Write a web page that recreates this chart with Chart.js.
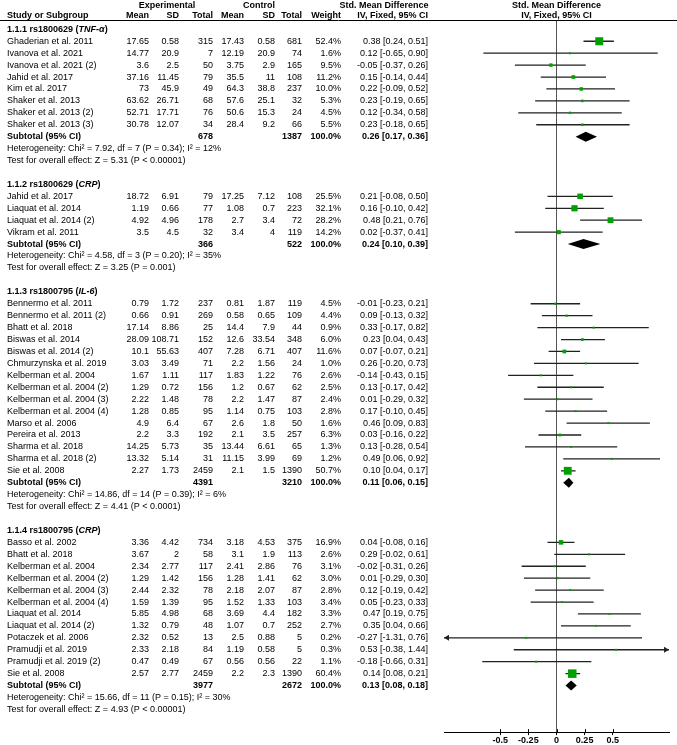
<!DOCTYPE html>
<html lang="en">
<head>
<meta charset="UTF-8">
<title>Forest plot: Std. Mean Difference</title>
<script src="https://cdn.jsdelivr.net/npm/chart.js"></script>
<style>
  html, body { margin: 0; padding: 0; background: #fff; }
  .chart-container { position: relative; width: 677px; height: 745px; }
</style>
</head>
<body>
<div class="chart-container"><canvas id="forestChart"></canvas></div>
<script>
// subgroups
const groupSnps = ['1.1.1 rs1800629', '1.1.2 rs1800629', '1.1.3 rs1800795', '1.1.4 rs1800795'];
const groupGenes = ['TNF-α', 'CRP', 'IL-6', 'CRP'];
const groupSizes = [8, 4, 15, 12];

// studies (in plot order)
const studyNames = [
  'Ghaderian et al. 2011', 'Ivanova et al. 2021', 'Ivanova et al. 2021 (2)', 'Jahid et al. 2017',
  'Kim et al. 2017', 'Shaker et al. 2013', 'Shaker et al. 2013 (2)', 'Shaker et al. 2013 (3)',
  'Jahid et al. 2017', 'Liaquat et al. 2014', 'Liaquat et al. 2014 (2)', 'Vikram et al. 2011',
  'Bennermo et al. 2011', 'Bennermo et al. 2011 (2)', 'Bhatt et al. 2018', 'Biswas et al. 2014',
  'Biswas et al. 2014 (2)', 'Chmurzynska et al. 2019', 'Kelberman et al. 2004', 'Kelberman et al. 2004 (2)',
  'Kelberman et al. 2004 (3)', 'Kelberman et al. 2004 (4)', 'Marso et al. 2006', 'Pereira et al. 2013',
  'Sharma et al. 2018', 'Sharma et al. 2018 (2)', 'Sie et al. 2008',
  'Basso et al. 2002', 'Bhatt et al. 2018', 'Kelberman et al. 2004', 'Kelberman et al. 2004 (2)',
  'Kelberman et al. 2004 (3)', 'Kelberman et al. 2004 (4)', 'Liaquat et al. 2014', 'Liaquat et al. 2014 (2)',
  'Potaczek et al. 2006', 'Pramudji et al. 2019', 'Pramudji et al. 2019 (2)', 'Sie et al. 2008'
];
const expMean = [17.65, 14.77, 3.6, 37.16, 73, 63.62, 52.71, 30.78,
  18.72, 1.19, 4.92, 3.5,
  0.79, 0.66, 17.14, 28.09, 10.1, 3.03, 1.67, 1.29, 2.22, 1.28, 4.9, 2.2, 14.25, 13.32, 2.27,
  3.36, 3.67, 2.34, 1.29, 2.44, 1.59, 5.85, 1.32, 2.32, 2.33, 0.47, 2.57];
const expSD = [0.58, 20.9, 2.5, 11.45, 45.9, 26.71, 17.71, 12.07,
  6.91, 0.66, 4.96, 4.5,
  1.72, 0.91, 8.86, 108.71, 55.63, 3.49, 1.11, 0.72, 1.48, 0.85, 6.4, 3.3, 5.73, 5.14, 1.73,
  4.42, 2, 2.77, 1.42, 2.32, 1.39, 4.98, 0.79, 0.52, 2.18, 0.49, 2.77];
const expTotal = [315, 7, 50, 79, 49, 68, 76, 34,
  79, 77, 178, 32,
  237, 269, 25, 152, 407, 71, 117, 156, 78, 95, 67, 192, 35, 31, 2459,
  734, 58, 117, 156, 78, 95, 68, 48, 13, 84, 67, 2459];
const ctlMean = [17.43, 12.19, 3.75, 35.5, 64.3, 57.6, 50.6, 28.4,
  17.25, 1.08, 2.7, 3.4,
  0.81, 0.58, 14.4, 12.6, 7.28, 2.2, 1.83, 1.2, 2.2, 1.14, 2.6, 2.1, 13.44, 11.15, 2.1,
  3.18, 3.1, 2.41, 1.28, 2.18, 1.52, 3.69, 1.07, 2.5, 1.19, 0.56, 2.2];
const ctlSD = [0.58, 20.9, 2.9, 11, 38.8, 25.1, 15.3, 9.2,
  7.12, 0.7, 3.4, 4,
  1.87, 0.65, 7.9, 33.54, 6.71, 1.56, 1.22, 0.67, 1.47, 0.75, 1.8, 3.5, 6.61, 3.99, 1.5,
  4.53, 1.9, 2.86, 1.41, 2.07, 1.33, 4.4, 0.7, 0.88, 0.58, 0.56, 2.3];
const ctlTotal = [681, 74, 165, 108, 237, 32, 24, 66,
  108, 223, 72, 119,
  119, 109, 44, 348, 407, 24, 76, 62, 87, 103, 50, 257, 65, 69, 1390,
  375, 113, 76, 62, 87, 103, 182, 252, 5, 5, 22, 1390];
const weights = [52.4, 1.6, 9.5, 11.2, 10.0, 5.3, 4.5, 5.5,
  25.5, 32.1, 28.2, 14.2,
  4.5, 4.4, 0.9, 6.0, 11.6, 1.0, 2.6, 2.5, 2.4, 2.8, 1.6, 6.3, 1.3, 1.2, 50.7,
  16.9, 2.6, 3.1, 3.0, 2.8, 3.4, 3.3, 2.7, 0.2, 0.3, 1.1, 60.4];
const smd = [0.38, 0.12, -0.05, 0.15, 0.22, 0.23, 0.12, 0.23,
  0.21, 0.16, 0.48, 0.02,
  -0.01, 0.09, 0.33, 0.23, 0.07, 0.26, -0.14, 0.13, 0.01, 0.17, 0.46, 0.03, 0.13, 0.49, 0.10,
  0.04, 0.29, -0.02, 0.01, 0.12, 0.05, 0.47, 0.35, -0.27, 0.53, -0.18, 0.14];
const ciLow = [0.24, -0.65, -0.37, -0.14, -0.09, -0.19, -0.34, -0.18,
  -0.08, -0.10, 0.21, -0.37,
  -0.23, -0.13, -0.17, 0.04, -0.07, -0.20, -0.43, -0.17, -0.29, -0.10, 0.09, -0.16, -0.28, 0.06, 0.04,
  -0.08, -0.02, -0.31, -0.29, -0.19, -0.23, 0.19, 0.04, -1.31, -0.38, -0.66, 0.08];
const ciHigh = [0.51, 0.90, 0.26, 0.44, 0.52, 0.65, 0.58, 0.65,
  0.50, 0.42, 0.76, 0.41,
  0.21, 0.32, 0.82, 0.43, 0.21, 0.73, 0.15, 0.42, 0.32, 0.45, 0.83, 0.22, 0.54, 0.92, 0.17,
  0.16, 0.61, 0.26, 0.30, 0.42, 0.33, 0.75, 0.66, 0.76, 1.44, 0.31, 0.21];

// subtotals
const subExpTotal = [678, 366, 4391, 3977];
const subCtlTotal = [1387, 522, 3210, 2672];
const subSmd = [0.26, 0.24, 0.11, 0.13];
const subLow = [0.17, 0.10, 0.06, 0.08];
const subHigh = [0.36, 0.39, 0.15, 0.18];
const hetChi = ['7.92', '4.58', '14.86', '15.66'];
const hetDf = [7, 3, 14, 11];
const hetP = ['0.34', '0.20', '0.39', '0.15'];
const hetI2 = [12, 35, 6, 30];
const zValues = ['5.31', '3.25', '4.41', '4.93'];
const zP = ['< 0.00001', '= 0.001', '< 0.0001', '< 0.00001'];

// axis
const tickValues = [-0.5, -0.25, 0, 0.25, 0.5];
const tickLabels = ['-0.5', '-0.25', '0', '0.25', '0.5'];

// work out which text row everything sits on
const headRow = [], studyRow = [], subRow = [], hetRow = [], testRow = [];
let r = 1;
groupSizes.forEach(n => {
  headRow.push(r++);
  for (let i = 0; i < n; i++) studyRow.push(r++);
  subRow.push(r++);
  hetRow.push(r++);
  testRow.push(r++);
  r++;
});

const FONT = '"Liberation Sans", Arial, sans-serif';
const col = { name: 7, eMean: 149, eSD: 179, eN: 213, cMean: 244, cSD: 275, cN: 302, w: 341, ci: 428 };

function ciText(e, lo, hi) {
  return e.toFixed(2) + ' [' + lo.toFixed(2) + ', ' + hi.toFixed(2) + ']';
}

function put(ctx, s, x, y, align, bold, italic) {
  ctx.font = (italic ? 'italic ' : '') + (bold ? 'bold ' : '') + '9px ' + FONT;
  ctx.textAlign = align;
  ctx.fillText(s, x, y);
  return ctx.measureText(s).width;
}

const forestPlugin = {
  id: 'forest',
  afterDatasetsDraw(chart) {
    const ctx = chart.ctx, xs = chart.scales.x, ys = chart.scales.y, area = chart.chartArea;
    ctx.save();
    // subtotal diamonds
    ctx.fillStyle = '#000';
    subSmd.forEach((e, g) => {
      const y = ys.getPixelForValue(subRow[g]);
      ctx.beginPath();
      ctx.moveTo(xs.getPixelForValue(subLow[g]), y);
      ctx.lineTo(xs.getPixelForValue(e), y - 5);
      ctx.lineTo(xs.getPixelForValue(subHigh[g]), y);
      ctx.lineTo(xs.getPixelForValue(e), y + 5);
      ctx.closePath();
      ctx.fill();
    });
    // arrows for intervals running past the axis
    ctx.fillStyle = '#222';
    studyRow.forEach((row, i) => {
      const y = ys.getPixelForValue(row);
      if (ciLow[i] < xs.min) {
        ctx.beginPath();
        ctx.moveTo(area.left, y); ctx.lineTo(area.left + 5, y - 3); ctx.lineTo(area.left + 5, y + 3);
        ctx.fill();
      }
      if (ciHigh[i] > xs.max) {
        ctx.beginPath();
        ctx.moveTo(area.right, y); ctx.lineTo(area.right - 5, y - 3); ctx.lineTo(area.right - 5, y + 3);
        ctx.fill();
      }
    });
    // tick marks also poke a little above the axis line
    ctx.strokeStyle = '#000';
    ctx.lineWidth = 1;
    tickValues.forEach(v => {
      const x = Math.round(xs.getPixelForValue(v)) + 0.5;
      ctx.beginPath();
      ctx.moveTo(x, area.bottom - 3); ctx.lineTo(x, area.bottom);
      ctx.stroke();
    });
    ctx.restore();
  },
  afterDraw(chart) {
    const ctx = chart.ctx, xs = chart.scales.x, ys = chart.scales.y, area = chart.chartArea;
    ctx.save();
    ctx.fillStyle = '#000';
    ctx.textBaseline = 'middle';

    // header
    const h1 = ys.getPixelForValue(-0.98), h2 = ys.getPixelForValue(-0.14);
    put(ctx, 'Experimental', 167, h1, 'center', true);
    put(ctx, 'Control', 259, h1, 'center', true);
    put(ctx, 'Std. Mean Difference', 384, h1, 'center', true);
    put(ctx, 'Std. Mean Difference', xs.getPixelForValue(0), h1, 'center', true);
    put(ctx, 'Study or Subgroup', col.name, h2, 'left', true);
    put(ctx, 'Mean', col.eMean, h2, 'right', true);
    put(ctx, 'SD', col.eSD, h2, 'right', true);
    put(ctx, 'Total', col.eN, h2, 'right', true);
    put(ctx, 'Mean', col.cMean, h2, 'right', true);
    put(ctx, 'SD', col.cSD, h2, 'right', true);
    put(ctx, 'Total', col.cN, h2, 'right', true);
    put(ctx, 'Weight', col.w, h2, 'right', true);
    put(ctx, 'IV, Fixed, 95% CI', col.ci, h2, 'right', true);
    put(ctx, 'IV, Fixed, 95% CI', xs.getPixelForValue(0), h2, 'center', true);

    ctx.strokeStyle = '#000';
    ctx.lineWidth = 1;
    ctx.beginPath();
    ctx.moveTo(0, area.top - 0.5); ctx.lineTo(chart.width, area.top - 0.5);
    ctx.stroke();

    groupSizes.forEach((n, g) => {
      let y = ys.getPixelForValue(headRow[g]);
      let x = col.name;
      x += put(ctx, groupSnps[g] + ' (', x, y, 'left', true);
      x += put(ctx, groupGenes[g], x, y, 'left', true, true);
      put(ctx, ')', x, y, 'left', true);

      y = ys.getPixelForValue(subRow[g]);
      put(ctx, 'Subtotal (95% CI)', col.name, y, 'left', true);
      put(ctx, String(subExpTotal[g]), col.eN, y, 'right', true);
      put(ctx, String(subCtlTotal[g]), col.cN, y, 'right', true);
      put(ctx, '100.0%', col.w, y, 'right', true);
      put(ctx, ciText(subSmd[g], subLow[g], subHigh[g]), col.ci, y, 'right', true);

      put(ctx, 'Heterogeneity: Chi² = ' + hetChi[g] + ', df = ' + hetDf[g] + ' (P = ' + hetP[g] + '); I² = ' + hetI2[g] + '%',
        col.name, ys.getPixelForValue(hetRow[g]), 'left');
      put(ctx, 'Test for overall effect: Z = ' + zValues[g] + ' (P ' + zP[g] + ')',
        col.name, ys.getPixelForValue(testRow[g]), 'left');
    });

    studyRow.forEach((row, i) => {
      const y = ys.getPixelForValue(row);
      put(ctx, studyNames[i], col.name, y, 'left');
      put(ctx, String(expMean[i]), col.eMean, y, 'right');
      put(ctx, String(expSD[i]), col.eSD, y, 'right');
      put(ctx, String(expTotal[i]), col.eN, y, 'right');
      put(ctx, String(ctlMean[i]), col.cMean, y, 'right');
      put(ctx, String(ctlSD[i]), col.cSD, y, 'right');
      put(ctx, String(ctlTotal[i]), col.cN, y, 'right');
      put(ctx, weights[i].toFixed(1) + '%', col.w, y, 'right');
      put(ctx, ciText(smd[i], ciLow[i], ciHigh[i]), col.ci, y, 'right');
    });
    ctx.restore();
  }
};

// CI segments, broken between studies
const ciSegments = [];
studyRow.forEach((row, i) => {
  ciSegments.push({ x: ciLow[i], y: row }, { x: ciHigh[i], y: row }, { x: null, y: null });
});

new Chart(document.getElementById('forestChart'), {
  type: 'scatter',
  data: {
    datasets: [
      {
        label: 'Std. Mean Difference',
        data: studyRow.map((row, i) => ({ x: smd[i], y: row })),
        order: 0,
        pointStyle: 'rect',
        backgroundColor: '#00a000',
        borderWidth: 0,
        pointRadius: ctx => Math.max(2, 1.1 * Math.sqrt(weights[ctx.dataIndex])) / Math.SQRT2
      },
      {
        label: '95% CI',
        type: 'line',
        data: ciSegments,
        order: 1,
        showLine: true,
        spanGaps: false,
        borderColor: '#222',
        borderWidth: 1.3,
        pointRadius: 0
      }
    ]
  },
  options: {
    responsive: true,
    maintainAspectRatio: false,
    animation: false,
    layout: { padding: { left: 444, right: 8, top: 21, bottom: 0 } },
    scales: {
      x: {
        type: 'linear',
        min: -1,
        max: 1,
        afterBuildTicks: scale => { scale.ticks = tickValues.map(v => ({ value: v })); },
        ticks: {
          autoSkip: false,
          maxRotation: 0,
          padding: 0,
          color: '#000',
          font: { size: 9, weight: 'bold', family: FONT, lineHeight: 1.1 },
          callback: (v, i) => tickLabels[i]
        },
        grid: {
          drawOnChartArea: true,
          color: ctx => (ctx.tick && ctx.tick.value === 0 ? '#555' : 'rgba(0,0,0,0)'),
          tickColor: '#000',
          tickLength: 3
        },
        border: { display: true, color: '#000', width: 1 }
      },
      y: {
        type: 'linear',
        display: false,
        reverse: true,
        min: 0.304,
        max: 59.9
      }
    },
    plugins: {
      legend: { display: false },
      tooltip: { enabled: false }
    }
  },
  plugins: [forestPlugin]
});
</script>
</body>
</html>
